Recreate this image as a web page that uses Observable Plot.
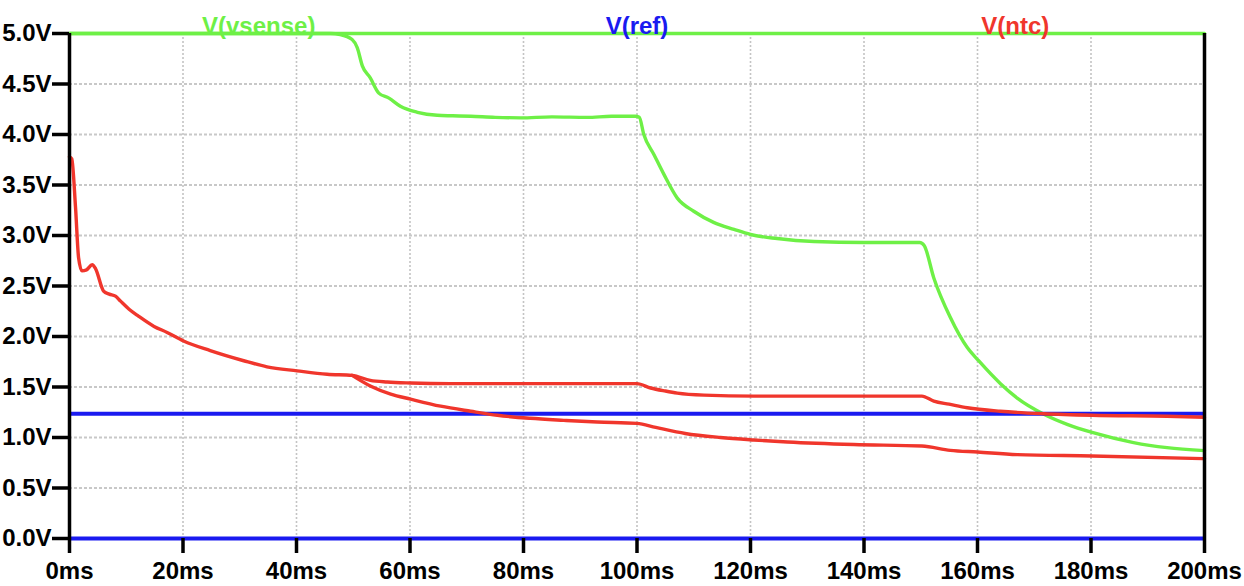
<!DOCTYPE html>
<html>
<head>
<meta charset="utf-8">
<script src="https://cdn.jsdelivr.net/npm/d3@7"></script>
<script src="https://cdn.jsdelivr.net/npm/@observablehq/plot@0.6"></script>
<style>
  html, body { margin: 0; padding: 0; background: #fff; }
  #chart { width: 1244px; height: 586px; }
</style>
</head>
<body>
<div id="chart"></div>
<script>
// ---- data ----
const xTicks = [0, 20, 40, 60, 80, 100, 120, 140, 160, 180, 200];
const yTicks = [0, 0.5, 1.0, 1.5, 2.0, 2.5, 3.0, 3.5, 4.0, 4.5, 5.0];
const seriesNames = ["V(vsense)", "V(ref)", "V(ntc)"];
const seriesColors = ["#6ef046", "#1a1af0", "#f0362c"];

// V(vsense) step that stays at 5 V
const vsenseFlatT = [0, 200];
const vsenseFlatV = [5.0, 5.0];
// V(vsense) step that falls
const vsenseT = [0, 46, 47.7, 49.8, 50.7, 51.6, 53, 54.5, 56.3, 58.3, 61.3, 64.8, 67.5, 70.7, 75, 79.5, 85, 91.2, 95.5, 99.7,
  100.4, 101.2, 103, 104.7, 107.1, 110, 113.5, 117.1, 120, 124.7, 131.2, 140, 149.8,
  150.6, 152.3, 155.2, 158.2, 160.2, 164.1, 167, 171.7, 175.8, 180.2, 187.5, 193.4, 200];
const vsenseV = [5.0, 5.0, 4.99, 4.94, 4.86, 4.68, 4.56, 4.41, 4.36, 4.28, 4.22, 4.19, 4.185, 4.18, 4.17, 4.165, 4.175, 4.17, 4.18, 4.18,
  4.17, 4.00, 3.80, 3.61, 3.37, 3.24, 3.13, 3.06, 3.01, 2.97, 2.94, 2.93, 2.93,
  2.90, 2.58, 2.19, 1.89, 1.76, 1.53, 1.39, 1.23, 1.13, 1.05, 0.95, 0.90, 0.87];

// V(ref) steps
const refLevels = [1.235, 0.0];

// V(ntc) upper step
const ntcUpperT = [0, 0.4, 1.06, 1.6, 2.2, 3.0, 4.0, 4.6, 6.0, 7.0, 8.1, 9.0, 10.5, 12.2, 14.9, 17.2, 20.1, 24.8, 30.7, 34.8, 40.1, 45.4, 49.8,
  53, 56, 60.1, 67.1, 100, 102.4, 105, 107.1, 111.8, 120.6, 150.2, 152.3, 155, 158.2, 164, 171.7, 180.2, 193.4, 200];
const ntcUpperV = [3.78, 3.76, 3.28, 2.78, 2.65, 2.66, 2.71, 2.67, 2.45, 2.42, 2.40, 2.35, 2.27, 2.20, 2.10, 2.04, 1.955, 1.86, 1.76, 1.70, 1.66, 1.626, 1.615,
  1.566, 1.55, 1.54, 1.533, 1.533, 1.49, 1.46, 1.44, 1.42, 1.41, 1.41, 1.36, 1.33, 1.295, 1.26, 1.235, 1.22, 1.21, 1.20];
// V(ntc) lower step (splits off at 50 ms)
const ntcLowerT = [49.8, 53, 56.6, 60.1, 65.4, 70.7, 75.4, 81.2, 87.1, 93, 100, 103.3, 108.5, 114.7, 120.6, 126.5, 138.2, 150.2,
  155.2, 160, 167, 180.2, 200];
const ntcLowerV = [1.615, 1.51, 1.43, 1.38, 1.31, 1.26, 1.22, 1.19, 1.17, 1.153, 1.14, 1.10, 1.04, 1.00, 0.975, 0.955, 0.93, 0.916,
  0.873, 0.856, 0.83, 0.817, 0.79];

// ---- build tables ----
const toRows = (T, V, step) => T.map((t, i) => ({t, v: V[i], step}));
const greenRows = [...toRows(vsenseFlatT, vsenseFlatV, "a"), ...toRows(vsenseT, vsenseV, "b")];
const redRows = [...toRows(ntcUpperT, ntcUpperV, "a"), ...toRows(ntcLowerT, ntcLowerV, "b")];
const xMax = xTicks[xTicks.length - 1];
const labelRows = seriesNames.map((name, i) => ({name, color: seriesColors[i], t: xMax * (2 * i + 1) / (2 * seriesNames.length)}));

const font = "'Liberation Sans', Arial, Helvetica, sans-serif";
const lw = 3.4;

const chart = Plot.plot({
  width: 1244,
  height: 586,
  marginLeft: 69,
  marginRight: 40,
  marginTop: 33,
  marginBottom: 48,
  x: {domain: [0, 200]},
  y: {domain: [0, 5]},
  style: {fontFamily: font, fontSize: "24px", fontWeight: "bold", background: "#fff", color: "#000"},
  marks: [
    Plot.gridX(xTicks, {stroke: "#c4c4c4", strokeOpacity: 1, strokeWidth: 1.6, strokeDasharray: "2,2"}),
    Plot.gridY(yTicks, {stroke: "#c8c8c8", strokeOpacity: 1, strokeWidth: 1.8, strokeDasharray: "3,2"}),
    Plot.line(greenRows, {x: "t", y: "v", z: "step", stroke: seriesColors[0], strokeWidth: lw, curve: "monotone-x"}),
    Plot.ruleY(refLevels, {stroke: seriesColors[1], strokeWidth: lw + 0.6}),
    Plot.line(redRows, {x: "t", y: "v", z: "step", stroke: seriesColors[2], strokeWidth: lw, curve: "monotone-x"}),
    Plot.ruleX([0, 200], {stroke: "#000", strokeWidth: 3.5}),
    Plot.axisY(yTicks, {anchor: "left", tickSize: 17, tickPadding: 1, strokeWidth: 3.5,
      tickFormat: d => d3.format(".1f")(d) + "V", fontSize: 24, fontWeight: "bold", fill: "#000", label: null}),
    Plot.axisX(xTicks, {anchor: "bottom", tickSize: 15, tickPadding: 8, strokeWidth: 3.5,
      tickFormat: d => d + "ms", fontSize: 24, fontWeight: "bold", fill: "#000", label: null}),
    Plot.text(labelRows, {x: "t", frameAnchor: "top", dy: -17, text: "name", fill: "color",
      fontSize: 24, fontWeight: "bold"})
  ]
});
document.getElementById("chart").appendChild(chart);
</script>
</body>
</html>
